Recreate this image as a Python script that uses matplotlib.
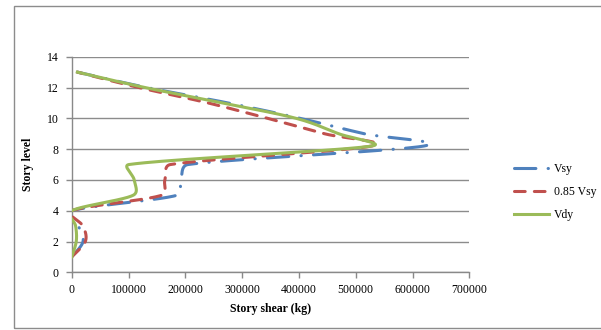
import numpy as np
import matplotlib
matplotlib.use("Agg")
import matplotlib.pyplot as plt
from matplotlib.patches import Rectangle

# story levels and shear values (kg)
levels = [1, 2, 3, 4, 5, 6, 7, 8.2, 9, 10, 11, 12, 13]
vsy = [0, 20000, 12000, 0, 185000, 192000, 205000, 620000, 515000, 402000, 275000, 132000, 10000]
vsy_085 = [0, 24000, 20000, 0, 158000, 164000, 174000, 528000, 445000, 345000, 240000, 118000, 10000]
vdy = [0, 8000, 7000, 0, 108000, 110000, 101000, 528000, 470000, 395000, 265000, 129000, 10000]

x_ticks = [0, 100000, 200000, 300000, 400000, 500000, 600000, 700000]
y_ticks = [0, 2, 4, 6, 8, 10, 12, 14]

# pixel scale of the plot area, used so the smoothing acts on screen distances
SX = 397.6 / 700000
SY = 215.6 / 14


def smooth(xs, ys, n=40, lim=0.45):
    # smoothed line like excel: bezier through the points,
    # control points from the neighbours, clipped on short segments
    p = np.column_stack([np.array(xs) * SX, np.array(ys) * SY]).astype(float)
    m = len(p)
    tang = []
    for i in range(m):
        a = p[i - 1] if i > 0 else p[i]
        b = p[i + 1] if i + 1 < m else p[i]
        tang.append((b - a) / 6)
    out = [p[0]]
    for i in range(m - 1):
        seg_len = np.linalg.norm(p[i + 1] - p[i])
        t1, t2 = tang[i].copy(), tang[i + 1].copy()
        for t in (t1, t2):
            L = np.linalg.norm(t)
            if L > lim * seg_len and L > 0:
                t *= lim * seg_len / L
        c1 = p[i] + t1
        c2 = p[i + 1] - t2
        t = np.linspace(0, 1, n)[1:, None]
        seg = ((1 - t) ** 3 * p[i] + 3 * (1 - t) ** 2 * t * c1
               + 3 * (1 - t) * t ** 2 * c2 + t ** 3 * p[i + 1])
        out.extend(seg)
    out = np.array(out)
    return out[:, 0] / SX, out[:, 1] / SY


plt.rcParams['font.family'] = ['Liberation Serif', 'DejaVu Serif']

fig = plt.figure(figsize=(6.01, 3.30), dpi=100)
ax = fig.add_axes([0.1193, 0.1748, 0.6616, 0.6533])

lw = 2.2
x, y = smooth(vsy, levels)
ax.plot(x, y, color='#4F81BD', lw=lw, dashes=(7, 4, 0.1, 4),
        dash_capstyle='round', label='Vsy', zorder=3)
x, y = smooth(vsy_085, levels)
ax.plot(x, y, color='#C0504D', lw=lw, dashes=(3.5, 3),
        dash_capstyle='round', label='0.85 Vsy', zorder=4)
x, y = smooth(vdy, levels)
ax.plot(x, y, color='#9BBB59', lw=lw, label='Vdy', zorder=5)

ax.set_xlim(0, 700000)
ax.set_ylim(0, 14)
ax.set_xticks(x_ticks)
ax.set_yticks(y_ticks)
ax.set_xticklabels([str(v) for v in x_ticks])
ax.tick_params(axis='both', labelsize=8.5, colors='#898989', labelcolor='black',
               direction='out', length=4.5, width=1)
ax.tick_params(axis='y', pad=5)
ax.tick_params(axis='x', pad=4)

ax.yaxis.grid(True, color='#8C8C8C', lw=1)
ax.set_axisbelow(True)
for s in ['top', 'right']:
    ax.spines[s].set_visible(False)
for s in ['left', 'bottom']:
    ax.spines[s].set_color('#898989')
    ax.spines[s].set_linewidth(1)

ax.set_xlabel('Story shear (kg)', fontsize=8.5, fontweight='bold', labelpad=5)
ax.set_ylabel('Story level', fontsize=8.5, fontweight='bold', labelpad=9)

ax.legend(loc='upper left', bbox_to_anchor=(508 / 601, 1 - 157 / 330),
          bbox_transform=fig.transFigure, frameon=False, fontsize=8.5,
          borderpad=0, handlelength=3.0, handletextpad=0.4, labelspacing=0.95)

# chart area border
fig.patches.append(Rectangle((14 / 601, 2 / 330), 1.0, 322 / 330, transform=fig.transFigure,
                             fill=False, edgecolor='#8C8C8C', lw=1))

fig.savefig('out.png', dpi=100)
